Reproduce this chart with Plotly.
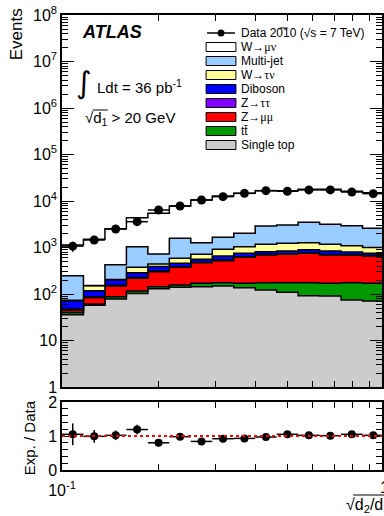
import plotly.graph_objects as go
from plotly.subplots import make_subplots
import math

# ---- data -----------------------------------------------------------------
# bin edges of sqrt(d2/d1): 15 logarithmic bins between 0.1 and 1
bin_edges = [0.1, 0.11659, 0.13594, 0.15849, 0.18478, 0.21544, 0.25119, 0.29286,
             0.34145, 0.39811, 0.46416, 0.54117, 0.63096, 0.73564, 0.85770, 1.0]

data_events = [1070, 1450, 2500, 3590, 6400, 7800, 10500, 12400,
               14600, 16700, 16200, 17300, 17300, 15600, 14400]
data_err = [260, 180, 150, 120, 90, 95, 110, 120, 125, 130, 130, 130, 130, 125, 120]

# expected contributions (events per bin), listed from bottom of stack to top
single_top = [36, 57, 78, 103, 130, 139, 144, 149, 137, 122, 109, 92, 91, 74, 71]
ttbar      = [4, 4, 9, 13, 14, 17, 26, 25, 33, 52, 65, 82, 79, 100, 99]
z_mumu     = [5, 22, 61, 101, 158, 219, 300, 348, 450, 516, 551, 576, 520, 516, 490]
z_tautau   = [3, 4, 6, 8, 9, 9, 10, 14, 14, 13, 12, 15, 16, 12, 10]
diboson    = [24, 31, 46, 62, 77, 73, 80, 119, 116, 112, 103, 125, 134, 98, 80]
w_taunu    = [1, 33, 5, 88, 54, 127, 155, 260, 290, 355, 390, 370, 330, 290, 250]
multijet   = [175, 2, 222, 665, 283, 996, 545, 745, 980, 1720, 1810, 2220, 1980, 1860, 1590]
w_munu     = [882, 1347, 2113, 3330, 4705, 6220, 9240, 11140, 12680, 13810,
              13660, 14320, 14650, 13250, 12510]

ratio     = [1.05, 0.99, 1.02, 1.19, 0.80, 0.98, 0.84, 0.92, 0.93, 0.97, 1.05, 1.02, 1.01, 1.05, 1.02]
ratio_err = [0.32, 0.19, 0.14, 0.14, 0.06, 0.06, 0.05, 0.05, 0.05, 0.05, 0.05, 0.05, 0.05, 0.05, 0.05]

main_ticks = [1, 10, 100, 1e3, 1e4, 1e5, 1e6, 1e7, 1e8]
main_tick_text = ["1", "10", "10<sup>2</sup>", "10<sup>3</sup>", "10<sup>4</sup>",
                  "10<sup>5</sup>", "10<sup>6</sup>", "10<sup>7</sup>", "10<sup>8</sup>"]
x_ticks = [0.1, 0.2, 0.3, 0.4, 0.5, 0.6, 0.7, 0.8, 0.9]
x_tick_text = ["10<sup>-1</sup>", "", "", "", "", "", "", "", ""]

components = [
    ("Single top", single_top, "#cccccc"),
    ("tt\u0304", ttbar, "#009900"),
    ("Z\u2192\u03bc\u03bc", z_mumu, "#ff0000"),
    ("Z\u2192\u03c4\u03c4", z_tautau, "#8000ff"),
    ("Diboson", diboson, "#0000ff"),
    ("W\u2192\u03c4\u03bd", w_taunu, "#ffff99"),
    ("Multi-jet", multijet, "#99ccff"),
    ("W\u2192\u03bc\u03bd", w_munu, "#ffffff"),
]

# ---- geometry helpers ----------------------------------------------------------
W, H = 384, 516
ML, MR, MT, MB = 62, 0, 15, 46
PW, PH = W - ML - MR, H - MT - MB


def fx(p):
    return (p - ML) / PW


def fy(p):
    return (H - MB - p) / PH


FONT = "Liberation Sans, Arial, Helvetica, sans-serif"
SERIF = "Liberation Serif"

centers = [math.sqrt(bin_edges[i] * bin_edges[i + 1]) for i in range(len(bin_edges) - 1)]
xerr_plus = [bin_edges[i + 1] - centers[i] for i in range(len(centers))]
xerr_minus = [centers[i] - bin_edges[i] for i in range(len(centers))]

fig = make_subplots(rows=2, cols=1, shared_xaxes=True, vertical_spacing=0.0)

# ---- stacked histogram -------------------------------------------------------
fig.add_trace(go.Scatter(x=bin_edges, y=[0.1] * len(bin_edges), mode="lines",
                         line=dict(width=0, shape="hv"), showlegend=False,
                         hoverinfo="skip"), row=1, col=1)
cum = [0.0] * len(centers)
for name, vals, color in components:
    cum = [c + v for c, v in zip(cum, vals)]
    fig.add_trace(go.Scatter(x=bin_edges, y=cum + [cum[-1]], mode="lines", name=name,
                             line=dict(color="black", width=1.5, shape="hv"),
                             fill="tonexty", fillcolor=color, showlegend=False),
                  row=1, col=1)

# data points
fig.add_trace(go.Scatter(x=centers, y=data_events, mode="markers", name="Data 2010",
                         marker=dict(color="black", size=9),
                         error_x=dict(type="data", array=xerr_plus, arrayminus=xerr_minus,
                                      color="black", thickness=1.5, width=0),
                         error_y=dict(type="data", array=data_err, color="black",
                                      thickness=1.5, width=0),
                         showlegend=False), row=1, col=1)

# ratio panel
fig.add_trace(go.Scatter(x=centers, y=ratio, mode="markers",
                         marker=dict(color="black", size=8),
                         error_x=dict(type="data", array=xerr_plus, arrayminus=xerr_minus,
                                      color="black", thickness=1.5, width=0),
                         error_y=dict(type="data", array=ratio_err, color="black",
                                      thickness=1.5, width=0),
                         showlegend=False), row=2, col=1)

# ---- axes -----------------------------------------------------------------------
xrange_log = [-1, -1 + PW / 324.0]
axis_common = dict(showline=True, linecolor="black", linewidth=1.5, mirror="ticks",
                   ticks="inside", tickcolor="black", tickwidth=1, showgrid=False,
                   zeroline=False, tickfont=dict(family=FONT, size=16, color="black"))

fig.update_xaxes(type="log", range=xrange_log, ticklen=6,
                 tickmode="array", tickvals=x_ticks, ticktext=x_tick_text,
                 **axis_common)
fig.update_xaxes(showticklabels=False, row=1, col=1)
fig.update_xaxes(showticklabels=True, ticklabelstandoff=5, row=2, col=1)

fig.update_yaxes(type="log", range=[0, 8], tickmode="array", tickvals=main_ticks,
                 ticktext=main_tick_text, ticklen=12,
                 minor=dict(ticks="inside", ticklen=6, dtick="D1", tickcolor="black",
                            showgrid=False),
                 domain=[fy(387), 1.0], row=1, col=1, **axis_common)
fig.update_yaxes(range=[0, 2], tickmode="array", tickvals=[0, 1, 2],
                 ticktext=["0", "1", "2"], ticklen=12,
                 minor=dict(ticks="inside", ticklen=6, dtick=0.2, tickcolor="black",
                            showgrid=False),
                 domain=[0, fy(402)], row=2, col=1, **axis_common)

# ---- shapes: unity line, legend boxes, radical bars ----------------------------
shapes = [dict(type="line", xref="x2 domain", yref="y2", x0=0, x1=1, y0=1, y1=1,
               line=dict(color="red", width=2, dash="dot"), layer="above")]

legend_rows = [47, 61, 75, 89, 103, 117, 131, 145]
legend_items = list(reversed(components))
annotations = []
for (name, _, color), yc in zip(legend_items, legend_rows):
    shapes.append(dict(type="rect", xref="paper", yref="paper",
                       x0=fx(207), x1=fx(237), y0=fy(yc + 4.5), y1=fy(yc - 4.5),
                       fillcolor=color, line=dict(color="black", width=1)))
    label = name
    if "\u2192" in name:
        a, b = name.split("\u2192")
        label = f"{a}\u2192<span style='font-family:{SERIF}'>{b}</span>"
    annotations.append(dict(x=fx(240), y=fy(yc), xref="paper", yref="paper",
                            text=label, showarrow=False, xanchor="left", yanchor="middle",
                            font=dict(family=FONT, size=12, color="black")))

# data legend entry
shapes.append(dict(type="line", xref="paper", yref="paper", x0=fx(208), x1=fx(236),
                   y0=fy(33), y1=fy(33), line=dict(color="black", width=1.5)))
shapes.append(dict(type="circle", xref="paper", yref="paper", x0=fx(218.5), x1=fx(225.5),
                   y0=fy(36.5), y1=fy(29.5), fillcolor="black", line=dict(color="black", width=0)))
annotations.append(dict(x=fx(240), y=fy(33), xref="paper", yref="paper",
                        text="Data 2010 (\u221as = 7 TeV)", showarrow=False,
                        xanchor="left", yanchor="middle",
                        font=dict(family=FONT, size=12, color="black")))

# text block
annotations += [
    dict(x=fx(80), y=fy(32), text="<b><i>ATLAS</i></b>", xanchor="left", yanchor="middle",
         font=dict(family=FONT, size=18, color="black")),
    dict(x=fx(84), y=fy(82), text="\u222b", xanchor="center", yanchor="middle",
         font=dict(family="DejaVu Sans", size=30, color="black")),
    dict(x=fx(95), y=fy(86), text="Ldt = 36 pb<sup>-1</sup>", xanchor="left", yanchor="middle",
         font=dict(family=FONT, size=15, color="black")),
    dict(x=fx(83), y=fy(119), text="\u221ad<sub>1</sub> > 20 GeV", xanchor="left",
         yanchor="middle", font=dict(family=FONT, size=15, color="black")),
    dict(x=fx(16), y=fy(6), text="Events", textangle=-90, xanchor="center", yanchor="top",
         font=dict(family=FONT, size=17, color="black")),
    dict(x=fx(29), y=fy(438), text="Exp. / Data", textangle=-90, xanchor="center",
         yanchor="middle", font=dict(family=FONT, size=15, color="black")),
    dict(x=fx(387), y=fy(487), text="1", xanchor="center", yanchor="middle",
         font=dict(family=FONT, size=16, color="black")),
    dict(x=fx(346), y=fy(505), text="\u221ad<sub>2</sub>/d<sub>1</sub>", xanchor="left",
         yanchor="middle", font=dict(family=FONT, size=16, color="black")),
]
for a in annotations:
    a.setdefault("xref", "paper")
    a.setdefault("yref", "paper")
    a["showarrow"] = False

# bars over radicands
shapes.append(dict(type="line", xref="paper", yref="paper", x0=fx(93), x1=fx(108),
                   y0=fy(110), y1=fy(110), line=dict(color="black", width=1)))
shapes.append(dict(type="line", xref="paper", yref="paper", x0=fx(355), x1=fx(400),
                   y0=fy(495), y1=fy(495), line=dict(color="black", width=1)))
shapes.append(dict(type="line", xref="paper", yref="paper", x0=fx(281), x1=fx(289),
                   y0=fy(28), y1=fy(28), line=dict(color="black", width=1)))

fig.update_layout(width=W, height=H, margin=dict(l=ML, r=MR, t=MT, b=MB),
                  paper_bgcolor="white", plot_bgcolor="white", showlegend=False,
                  shapes=shapes, annotations=annotations,
                  font=dict(family=FONT, color="black"))

fig.write_html("out.html", config={"displayModeBar": False})
